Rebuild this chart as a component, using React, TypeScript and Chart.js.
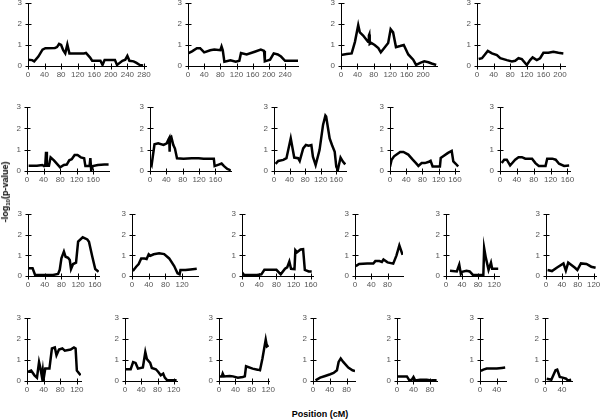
import React, { useEffect, useRef } from "react";
import { Chart, registerables } from "chart.js";
Chart.register(...registerables);

// ---- data: [position cM, -log10 p] per chromosome ----
const chr1 = [[0,0.3],[10,0.28],[15,0.22],[25,0.45],[35,0.78],[42,0.85],[65,0.86],[70,0.9],[75,1.05],[80,1.0],[85,0.75],[90,0.6],[95,1.02],[100,0.6],[135,0.6],[140,0.62],[150,0.4],[155,0.25],[175,0.25],[180,0.05],[185,0.28],[210,0.28],[215,0.05],[228,0.25],[235,0.3],[240,0.48],[245,0.25],[255,0.22],[262,0.15],[270,0.05],[278,0.02]];
const chr2 = [[0,0.6],[10,0.7],[22,0.85],[30,0.85],[40,0.65],[55,0.75],[65,0.78],[80,0.75],[83,0.93],[86,0.75],[90,0.2],[105,0.27],[118,0.2],[127,0.25],[131,0.62],[145,0.55],[165,0.68],[180,0.78],[188,0.72],[190,0.22],[203,0.3],[212,0.6],[222,0.55],[230,0.45],[240,0.25],[272,0.25]];
const chr3 = [[0,0.52],[14,0.57],[26,0.6],[34,1.15],[42,1.95],[46,1.6],[54,1.45],[62,1.25],[66,1.15],[68,1.45],[69,1.5],[70,1.05],[74,1.1],[82,1.0],[91,0.85],[97,0.65],[103,0.8],[115,1.1],[121,1.75],[127,1.6],[134,0.9],[144,0.95],[153,1.0],[164,0.55],[176,0.3],[183,0.05],[193,0.15],[203,0.22],[213,0.18],[221,0.12],[232,0.05]];
const chr4 = [[4,0.33],[12,0.37],[26,0.72],[36,0.6],[48,0.52],[56,0.37],[72,0.28],[84,0.22],[92,0.25],[100,0.37],[108,0.33],[120,0.05],[128,0.28],[134,0.41],[144,0.28],[152,0.37],[160,0.63],[172,0.63],[184,0.68],[196,0.63],[208,0.6]];
const chr5 = [[4,0.25],[24,0.25],[37,0.28],[41,0.23],[44,0.25],[46,0.9],[48,0.25],[53,0.25],[57,0.64],[65,0.5],[80,0.17],[89,0.28],[96,0.3],[102,0.5],[108,0.55],[115,0.75],[122,0.75],[130,0.64],[138,0.6],[141,0.23],[151,0.23],[153,0.6],[155,0.03],[159,0.23],[171,0.28],[187,0.3],[197,0.3]];
const chr6 = [[2,0.36],[4,0.28],[11,1.25],[20,1.3],[33,1.22],[41,1.3],[45,1.48],[47,1.55],[48,0.9],[49,1.55],[52,1.6],[57,1.22],[61,1.05],[66,0.6],[82,0.58],[102,0.6],[119,0.6],[131,0.58],[156,0.58],[158,0.23],[168,0.3],[175,0.35],[181,0.23],[189,0.1],[194,0.06],[197,0.01]];
const chr7 = [[4,0.33],[11,0.47],[24,0.52],[32,0.6],[43,1.53],[52,0.63],[62,0.6],[66,0.47],[75,1.06],[82,1.22],[89,1.19],[96,1.22],[100,0.67],[107,0.28],[117,0.98],[126,2.16],[132,2.6],[134,2.55],[143,1.53],[149,1.22],[156,0.9],[160,0.2],[164,0.05],[171,0.63],[177,0.44],[183,0.31]];
const chr8 = [[0,0.2],[4,0.53],[10,0.69],[25,0.89],[33,0.89],[45,0.77],[56,0.53],[64,0.37],[70,0.24],[78,0.37],[86,0.37],[94,0.42],[100,0.48],[105,0.21],[123,0.21],[125,0.61],[131,0.69],[143,0.85],[152,0.94],[156,0.45],[162,0.34],[168,0.21]];
const chr9 = [[4,0.37],[10,0.53],[16,0.53],[24,0.26],[36,0.53],[44,0.65],[52,0.65],[60,0.58],[76,0.58],[84,0.37],[92,0.24],[108,0.24],[112,0.58],[124,0.58],[132,0.53],[140,0.34],[152,0.24],[164,0.26]];
const chr10 = [[0,0.37],[11,0.37],[17,0.05],[29,0.05],[60,0.05],[72,0.1],[76,0.3],[80,0.85],[86,1.18],[90,0.93],[96,0.88],[100,0.77],[103,0.34],[108,0.58],[115,0.65],[120,1.66],[131,1.87],[142,1.77],[146,1.66],[154,0.93],[161,0.34],[169,0.21]];
const chr11 = [[2,0.24],[10,0.45],[16,0.58],[22,0.85],[30,0.85],[35,0.82],[40,1.05],[44,0.98],[52,1.05],[65,1.1],[77,1.06],[89,0.85],[101,0.48],[109,0.13],[114,0.08],[116,0.29],[128,0.29],[140,0.32],[155,0.35]];
const chr12 = [[0,0.18],[5,0.05],[35,0.05],[45,0.08],[52,0.3],[80,0.3],[90,0.08],[100,0.35],[105,0.42],[110,0.7],[114,0.35],[122,0.33],[124,1.25],[128,1.15],[136,1.28],[142,1.3],[146,0.3],[155,0.22],[162,0.22]];
const chr13 = [[2,0.48],[10,0.58],[30,0.6],[45,0.6],[50,0.72],[60,0.72],[66,0.68],[70,0.8],[80,0.66],[94,0.6],[102,1.0],[109,1.48],[117,1.02]];
const chr14 = [[10,0.25],[27,0.22],[33,0.55],[37,0.1],[40,0.2],[51,0.25],[59,0.22],[67,0.05],[93,0.05],[95,1.35],[99,0.9],[106,0.3],[112,0.65],[115,0.35],[130,0.35]];
const chr15 = [[4,0.29],[15,0.24],[27,0.4],[44,0.61],[50,0.26],[56,0.65],[64,0.53],[73,0.4],[79,0.29],[88,0.61],[102,0.58],[114,0.45],[125,0.4]];
const chr16 = [[2,0.43],[10,0.5],[18,0.27],[24,0.16],[29,0.9],[32,0.64],[36,0.19],[38,0.5],[40,0.1],[44,0.59],[54,0.59],[60,1.55],[67,1.6],[71,1.23],[77,1.5],[85,1.55],[91,1.44],[105,1.5],[113,1.6],[117,1.55],[120,0.5],[129,0.27]];
const chr17 = [[0,0.56],[14,0.56],[20,0.9],[26,0.86],[32,0.59],[44,0.64],[50,1.38],[54,1.04],[62,0.86],[66,0.62],[76,0.56],[82,0.43],[88,0.27],[94,0.35],[98,0.16],[104,0.03],[116,0.03],[127,0.03]];
const chr18 = [[2,0.22],[7,0.22],[9,0.35],[12,0.22],[26,0.24],[34,0.22],[46,0.16],[58,0.19],[63,0.22],[66,0.7],[82,0.59],[94,0.54],[100,0.51],[106,1.07],[114,1.97],[117,1.65],[121,1.7]];
const chr19 = [[6,0.03],[17,0.16],[29,0.24],[41,0.32],[49,0.38],[57,0.51],[61,0.91],[66,1.07],[72,0.91],[84,0.64],[94,0.51],[100,0.48]];
const chr20 = [[0,0.22],[24,0.22],[30,0.03],[36,0.06],[40,0.19],[44,0.03],[56,0.06],[72,0.06],[84,0.03],[96,0.03]];
const chr21 = [[2,0.48],[8,0.54],[16,0.59],[28,0.59],[40,0.59],[52,0.62],[60,0.64]];
const chr22 = [[4,0.11],[15,0.06],[25,0.51],[29,0.54],[35,0.19],[42,0.16],[50,0.11],[54,0.03],[62,0.06]];

const chromosomes = [chr1,chr2,chr3,chr4,chr5,chr6,chr7,chr8,chr9,chr10,chr11,chr12,chr13,chr14,chr15,chr16,chr17,chr18,chr19,chr20,chr21,chr22];
const chromLengths = [285,272,234,212,198,198,185,170,166,170,158,165,118,132,126,130,128,122,100,97,62,64];
const yTickValues = [0, 1, 2, 3];
const xTickStep = 40;
const yTitle = "-log";
const yTitleSub = "10";
const yTitleEnd = "(p-value)";
const xTitle = "Position (cM)";

// ---- layout (pixels) ----
const ROW_TOP = [3, 107, 214, 318];
const ROW_BOTTOM = [66, 171, 276, 381];
const PANEL_ROW = [0,0,0,0, 1,1,1,1,1, 2,2,2,2,2,2, 3,3,3,3,3,3,3];
const PANEL_LEFT = [28,188,341,477, 27,150,274,390,500, 28,132,242,355,446,546, 27,125,219,313,397,480,545];
const PANEL_RIGHT = [146,298,437,565, 109,231,346,459,570, 99,198,313,403,499,596, 81,177,269,355,437,506,572];

const PAD_L = 18, PAD_R = 10, PAD_T = 7, PAD_B = 15;
const FONT = "Arial, 'Liberation Sans', sans-serif";

const crossTicks = {
  id: "crossTicks",
  afterDraw(chart: any) {
    const { ctx, scales, chartArea } = chart;
    const x = scales.x, y = scales.y;
    ctx.save();
    ctx.strokeStyle = "#000";
    ctx.lineWidth = 1;
    ctx.beginPath();
    y.ticks.forEach((t: any) => {
      const py = Math.round(y.getPixelForValue(t.value)) + 0.5;
      const ax = Math.round(chartArea.left) + 0.5;
      ctx.moveTo(ax - 3, py);
      ctx.lineTo(ax + 3, py);
    });
    x.ticks.forEach((t: any) => {
      const px = Math.round(x.getPixelForValue(t.value)) + 0.5;
      const ay = Math.round(chartArea.bottom) + 0.5;
      ctx.moveTo(px, ay - 3);
      ctx.lineTo(px, ay + 3);
    });
    ctx.stroke();
    ctx.restore();
  },
};

function Panel({ idx }: { idx: number }) {
  const ref = useRef<HTMLCanvasElement | null>(null);
  const row = PANEL_ROW[idx];
  const left = PANEL_LEFT[idx];
  const right = PANEL_RIGHT[idx];
  const top = ROW_TOP[row];
  const bottom = ROW_BOTTOM[row];
  const w = right - left + PAD_L + PAD_R;
  const h = bottom - top + PAD_T + PAD_B;

  useEffect(() => {
    const data = chromosomes[idx].map(([x, y]) => ({ x, y }));
    const chart = new Chart(ref.current as HTMLCanvasElement, {
      type: "scatter",
      data: {
        datasets: [
          {
            data,
            showLine: true,
            borderColor: "#000",
            backgroundColor: "#000",
            borderWidth: 2.5,
            pointRadius: 0,
            tension: 0,
            fill: false,
          } as any,
        ],
      },
      options: {
        animation: false,
        responsive: false,
        maintainAspectRatio: false,
        devicePixelRatio: 1,
        layout: { padding: { left: 0, right: PAD_R, top: PAD_T, bottom: 0 } },
        plugins: { legend: { display: false }, tooltip: { enabled: false } },
        scales: {
          x: {
            type: "linear",
            min: 0,
            max: chromLengths[idx],
            grid: { display: false, drawTicks: false },
            border: { display: true, color: "#000", width: 1 },
            ticks: {
              stepSize: xTickStep,
              includeBounds: false,
              autoSkip: false,
              maxRotation: 0,
              padding: 4,
              color: "#555",
              font: { family: FONT, size: 8 },
            },
            afterFit: (s: any) => {
              s.height = PAD_B;
              s.paddingLeft = 0;
              s.paddingRight = 0;
            },
          },
          y: {
            type: "linear",
            min: 0,
            max: 3,
            grid: { display: false, drawTicks: false },
            border: { display: true, color: "#000", width: 1 },
            afterBuildTicks: (s: any) => {
              s.ticks = yTickValues.map((v) => ({ value: v }));
            },
            ticks: {
              padding: 6,
              color: "#555",
              font: { family: FONT, size: 8 },
            },
            afterFit: (s: any) => {
              s.width = PAD_L;
              s.paddingTop = 0;
              s.paddingBottom = 0;
            },
          },
        },
      } as any,
      plugins: [crossTicks],
    });
    return () => chart.destroy();
  }, [idx]);

  return (
    <canvas
      ref={ref}
      width={w}
      height={h}
      style={{ position: "absolute", left: left - PAD_L, top: top - PAD_T, width: w, height: h }}
    />
  );
}

export default function App() {
  return (
    <div
      style={{
        position: "fixed",
        left: 0,
        top: 0,
        width: 600,
        height: 420,
        background: "#fff",
        overflow: "hidden",
      }}
    >
      {chromosomes.map((_, i) => (
        <Panel key={i} idx={i} />
      ))}
      <div
        style={{
          position: "absolute",
          left: 5,
          top: 192,
          transform: "translate(-50%, -50%) rotate(-90deg)",
          whiteSpace: "nowrap",
          fontFamily: FONT,
          fontWeight: "bold",
          fontSize: 9,
          lineHeight: "10px",
          color: "#000",
        }}
      >
        {yTitle}
        <sub style={{ fontSize: 6, verticalAlign: "-2px", lineHeight: 0 }}>{yTitleSub}</sub>
        {yTitleEnd}
      </div>
      <div
        style={{
          position: "absolute",
          left: 320,
          top: 414,
          transform: "translate(-50%, -50%)",
          whiteSpace: "nowrap",
          fontFamily: FONT,
          fontWeight: "bold",
          fontSize: 9,
          color: "#000",
        }}
      >
        {xTitle}
      </div>
    </div>
  );
}
